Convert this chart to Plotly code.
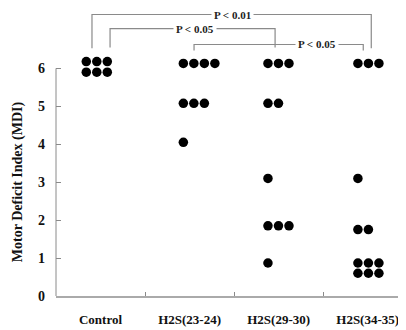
import plotly.graph_objects as go

# ---------------- data ----------------
groups = ["Control", "H2S(23-24)", "H2S(29-30)", "H2S(34-35)"]
control = [6.18, 6.18, 6.18, 5.9, 5.9, 5.9]
h2s_23_24 = [6.13, 6.13, 6.13, 6.13, 5.08, 5.08, 5.08, 4.05]
h2s_29_30 = [6.13, 6.13, 6.13, 5.08, 5.08, 3.1, 1.85, 1.85, 1.85, 0.87]
h2s_34_35 = [6.13, 6.13, 6.13, 3.1, 1.75, 1.75, 0.87, 0.87, 0.87, 0.6, 0.6, 0.6]
series = [control, h2s_23_24, h2s_29_30, h2s_34_35]
y_ticks = [0, 1, 2, 3, 4, 5, 6]
p_labels = ["P < 0.01", "P < 0.05", "P < 0.05"]

# ---------------- layout constants ----------------
# page body has an 8px margin, so the figure is sized to fit the window
W, H = 398, 322
XMIN, XMAX = -0.5, 3.43
YMIN, YMAX = 0, 6.3
UNIT = 38.0                                  # px per MDI unit
PLOT_BOTTOM = 288                            # figure px of y = 0
row_start = [-0.16, -0.07, -0.12, -0.11]     # left offset of each dot row
step = 0.118                                 # spacing between dots in a row
FONT = "Liberation Serif"
GRAY = "#8a8a8a"

xs, ys = [], []
for g, vals in enumerate(series):
    counts = {}
    for v in vals:
        k = counts.get(v, 0)
        counts[v] = k + 1
        xs.append(g + row_start[g] + k * step)
        ys.append(v)

fig = go.Figure()
fig.add_trace(go.Scatter(x=xs, y=ys, xaxis="x", yaxis="y", mode="markers",
                         marker=dict(color="black", size=9.5, line=dict(width=0)),
                         cliponaxis=False, showlegend=False))
fig.add_trace(go.Scatter(x=groups, y=[None] * 4, xaxis="x2", yaxis="y",
                         mode="markers", showlegend=False, hoverinfo="skip"))

def px(x):
    return (x - XMIN) / (XMAX - XMIN)

def py(y):
    return (y - YMIN) / (YMAX - YMIN)

# brackets: (left x, right x, top y, left bottom y, right bottom y, label x)
brackets = [
    (-0.096, 3.04, 7.42, 6.53, 6.53, 1.48),
    (0.107, 1.96, 7.05, 6.55, 6.55, 1.06),
    (1.05, 2.95, 6.63, 6.47, 6.47, 2.43),
]
shapes = []
annotations = []
for (xl, xr, yt, ybl, ybr, xlab), lab in zip(brackets, p_labels):
    path = (f"M {px(xl)} {py(ybl)} L {px(xl)} {py(yt)} "
            f"L {px(xr)} {py(yt)} L {px(xr)} {py(ybr)}")
    shapes.append(dict(type="path", xref="paper", yref="paper", path=path,
                       line=dict(color=GRAY, width=1.2)))
    annotations.append(dict(x=px(xlab), y=py(yt), xref="paper", yref="paper",
                            xanchor="center", yanchor="middle",
                            text=f"<b>{lab}</b>", showarrow=False,
                            bgcolor="white", borderpad=2,
                            font=dict(family=FONT, size=11, color="#222")))

# y axis line only from 0 to 6
shapes.append(dict(type="line", xref="paper", yref="y", x0=0, x1=0,
                   y0=0, y1=6, line=dict(color=GRAY, width=1)))

annotations.append(dict(x=0, y=py(3), xref="paper", yref="paper",
                        xanchor="center", yanchor="middle",
                        xshift=-38, textangle=-90, showarrow=False,
                        text="<b>Motor Deficit Index (MDI)</b>",
                        font=dict(family=FONT, size=14, color="#111")))

plot_h = (YMAX - YMIN) * UNIT
fig.update_layout(
    width=W, height=H,
    margin=dict(l=48, r=0, t=PLOT_BOTTOM - plot_h, b=H - PLOT_BOTTOM,
                autoexpand=False),
    paper_bgcolor="white", plot_bgcolor="white",
    showlegend=False,
    xaxis=dict(range=[XMIN, XMAX], visible=False, fixedrange=True,
               automargin=False),
    xaxis2=dict(overlaying="x", anchor="y", side="bottom",
                type="category", categoryarray=groups, categoryorder="array",
                range=[XMIN, XMAX], tickson="boundaries", ticks="inside",
                ticklen=4, tickcolor=GRAY, showgrid=False, zeroline=False,
                showline=True, linecolor="#aaaaaa", linewidth=2,
                tickvals=groups, ticktext=[f"<b>{g}</b>" for g in groups],
                tickfont=dict(family=FONT, size=13, color="#111"),
                ticklabelstandoff=10, fixedrange=True, automargin=False),
    yaxis=dict(range=[YMIN, YMAX], tickvals=y_ticks,
               ticktext=[f"<b>{t}</b>" for t in y_ticks],
               ticks="inside", ticklen=5, tickcolor=GRAY, showgrid=False,
               zeroline=False, showline=False,
               tickfont=dict(family=FONT, size=14, color="#111"),
               ticklabelstandoff=10, fixedrange=True, automargin=False),
    shapes=shapes, annotations=annotations,
)

fig.write_html("out.html")
